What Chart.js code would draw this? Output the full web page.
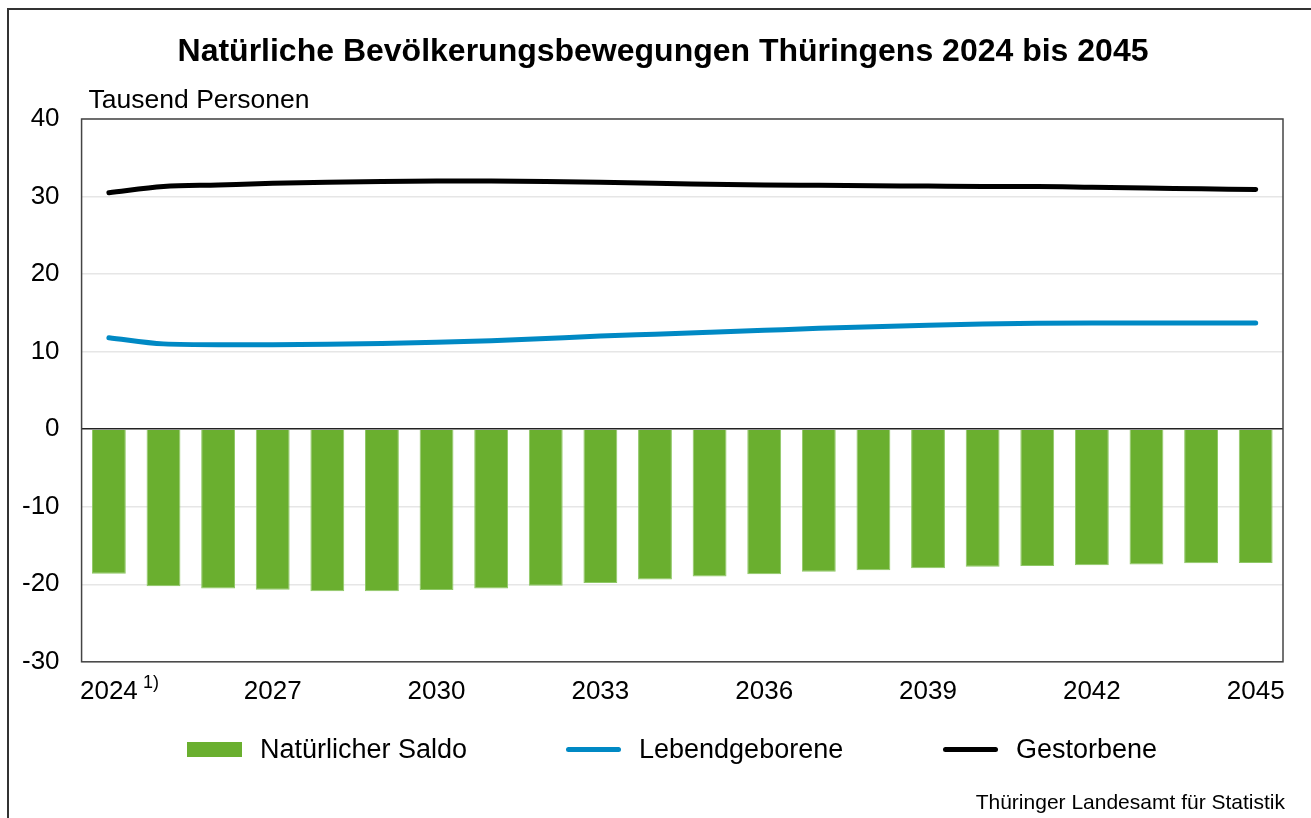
<!DOCTYPE html>
<html>
<head>
<meta charset="utf-8">
<script src="https://cdn.jsdelivr.net/npm/chart.js@4/dist/chart.umd.min.js"></script>
<style>
  body { margin: 0; background: #fff; font-family: "Liberation Sans", Arial, sans-serif; }
  #wrap { position: relative; width: 1311px; height: 818px; overflow: hidden; }
  #frame { position: absolute; left: 7px; top: 8px; width: 1400px; height: 900px;
           border-left: 2px solid #333; border-top: 2px solid #333; }
  #chart { position: absolute; left: 0; top: 0; }
  #legend { position: absolute; left: 0; top: 733px; width: 1311px; height: 32px;
            font-size: 27px; color: #000; }
  .item { position: absolute; top: 0; display: flex; align-items: center; gap: 18px; height: 32px; white-space: nowrap; }
  .sw { display: inline-block; width: 55px; }
  #source { position: absolute; right: 26px; top: 790px; font-size: 21px; color: #000; }
</style>
</head>
<body>
<div id="wrap">
  <div id="frame"></div>
  <canvas id="chart" width="1311" height="818"></canvas>
  <div id="legend"></div>
  <div id="source">Thüringer Landesamt für Statistik</div>
</div>
<script>
const years = ['2024', '2025', '2026', '2027', '2028', '2029', '2030', '2031', '2032', '2033', '2034',
               '2035', '2036', '2037', '2038', '2039', '2040', '2041', '2042', '2043', '2044', '2045'];

// Tausend Personen
const saldo = [-18.65, -20.25, -20.55, -20.7, -20.9, -20.9, -20.75, -20.55, -20.2, -19.85, -19.4,
               -19.0, -18.7, -18.4, -18.2, -17.95, -17.75, -17.65, -17.55, -17.45, -17.3, -17.25];
const lebendgeborene = [11.8, 11.0, 10.9, 10.9, 10.95, 11.05, 11.2, 11.4, 11.7, 12.0, 12.25,
                        12.5, 12.75, 13.0, 13.2, 13.4, 13.55, 13.65, 13.7, 13.7, 13.7, 13.7];
const gestorbene = [30.5, 31.3, 31.5, 31.7, 31.85, 31.95, 32.0, 32.0, 31.95, 31.85, 31.7,
                    31.6, 31.5, 31.45, 31.4, 31.35, 31.3, 31.3, 31.2, 31.1, 31.0, 30.9];

const title = 'Natürliche Bevölkerungsbewegungen Thüringens 2024 bis 2045';
const green = '#6aaf2f';
const blue = '#0089c4';
const black = '#000000';
const font = '"Liberation Sans", Arial, sans-serif';

const extraText = {
    id: 'extraText',
    afterDraw(chart) {
        const ctx = chart.ctx;
        const area = chart.chartArea;
        const x = chart.scales.x;
        ctx.save();
        // frame round the plot
        ctx.strokeStyle = '#444';
        ctx.lineWidth = 1.5;
        ctx.strokeRect(area.left, area.top, area.right - area.left, area.bottom - area.top);
        ctx.fillStyle = '#000';
        ctx.textBaseline = 'middle';
        ctx.textAlign = 'center';
        ctx.font = 'bold 32px ' + font;
        ctx.fillText(title, 663, 52);
        ctx.textAlign = 'left';
        ctx.font = '26.5px ' + font;
        ctx.fillText('Tausend Personen', area.left + 7, area.top - 18);
        ctx.font = '18px ' + font;
        ctx.fillText('1)', x.getPixelForTick(0) + 34, area.bottom + 21);
        ctx.restore();
    }
};

new Chart(document.getElementById('chart'), {
    type: 'bar',
    data: {
        labels: years,
        datasets: [{
            type: 'line',
            label: 'Lebendgeborene',
            data: lebendgeborene,
            borderColor: blue,
            backgroundColor: blue,
            borderWidth: 5,
            borderCapStyle: 'round',
            pointRadius: 0,
            cubicInterpolationMode: 'monotone',
            order: 0
        }, {
            type: 'line',
            label: 'Gestorbene',
            data: gestorbene,
            borderColor: black,
            backgroundColor: black,
            borderWidth: 5,
            borderCapStyle: 'round',
            pointRadius: 0,
            cubicInterpolationMode: 'monotone',
            order: 0
        }, {
            label: 'Natürlicher Saldo',
            data: saldo,
            backgroundColor: green,
            borderColor: '#8fc866',
            borderWidth: 1,
            barPercentage: 0.62,
            categoryPercentage: 1,
            order: 1
        }]
    },
    options: {
        responsive: false,
        animation: false,
        layout: { padding: { top: 119, left: 0, right: 28, bottom: 97 } },
        plugins: {
            legend: { display: false },
            tooltip: { enabled: false }
        },
        scales: {
            x: {
                grid: { display: false, drawTicks: false },
                border: { display: false },
                ticks: {
                    autoSkip: false,
                    maxRotation: 0,
                    padding: 14,
                    color: '#000',
                    font: { family: font, size: 26 },
                    callback: (v, i) => (i % 3 === 0 ? years[i] : '')
                }
            },
            y: {
                min: -30,
                max: 40,
                grid: {
                    drawTicks: false,
                    lineWidth: 1.5,
                    color: c => (c.tick.value === 0 ? '#222' : '#e6e6e6')
                },
                border: { display: false },
                ticks: {
                    stepSize: 10,
                    padding: 22,
                    color: '#000',
                    font: { family: font, size: 26 }
                }
            }
        }
    },
    plugins: [extraText]
});

// legend below the chart
const legendItems = [
    { text: 'Natürlicher Saldo', color: green, h: 15, r: 0, left: 187 },
    { text: 'Lebendgeborene', color: blue, h: 5, r: 3, left: 566 },
    { text: 'Gestorbene', color: black, h: 5, r: 3, left: 943 }
];
const legend = document.getElementById('legend');
legendItems.forEach(it => {
    const d = document.createElement('div');
    d.className = 'item';
    d.style.left = it.left + 'px';
    const s = document.createElement('span');
    s.className = 'sw';
    s.style.height = it.h + 'px';
    s.style.background = it.color;
    s.style.borderRadius = it.r + 'px';
    const t = document.createElement('span');
    t.textContent = it.text;
    d.appendChild(s);
    d.appendChild(t);
    legend.appendChild(d);
});
</script>
</body>
</html>
